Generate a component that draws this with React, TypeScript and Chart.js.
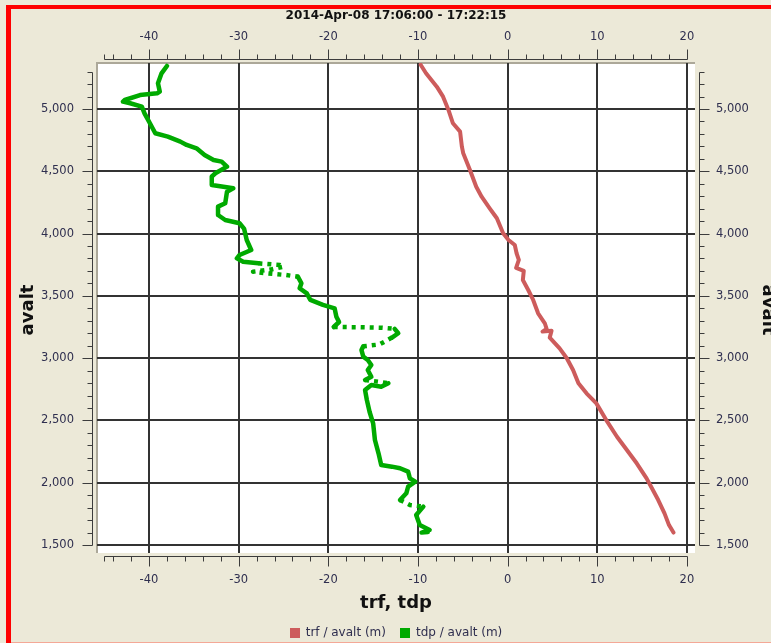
import React, { useEffect, useRef } from 'react';
import { Chart, registerables } from 'chart.js';

Chart.register(...registerables);

// ---------- text ----------
const chartTitle = '2014-Apr-08 17:06:00 - 17:22:15';
const xAxisTitle = 'trf, tdp';
const yAxisTitle = 'avalt';
const seriesNames = ['trf / avalt (m)', 'tdp / avalt (m)'];

// ---------- axes ----------
const xGridTicks = [-40, -30, -20, -10, 0, 10, 20];
const yGridTicks = [1500, 2000, 2500, 3000, 3500, 4000, 4500, 5000];
const xRange = [-45.8, 20.9];
const yRange = [1436, 5369];
const xAxisSpan = [-45, 20];
const yAxisSpan = [1500, 5300];
const xMajorStep = 10;
const xMinorStep = 2;
const yMajorStep = 500;
const yMinorStep = 100;

// ---------- data: trf (temperature) vs avalt ----------
const trfTemp = [
  -9.7, -9.1, -7.9, -7.2, -6.6, -6.1, -5.3, -5.1, -4.95, -4.2, -3.5, -2.9, -2.0, -1.2, -0.5,
  0.1, 0.8, 1.0, 1.25, 0.95, 1.8, 1.7, 2.3, 2.85, 3.4, 4.15, 4.35, 3.9, 4.9, 4.7, 5.8, 6.6,
  7.3, 7.9, 8.8, 9.9, 11.0, 12.2, 13.3, 14.4, 15.5, 15.9, 16.8, 17.5, 18.0, 18.5,
];
const trfAlt = [
  5355, 5287, 5179, 5099, 4992, 4885, 4818, 4697, 4644, 4510, 4376, 4296, 4203, 4123, 4002,
  3948, 3908, 3842, 3788, 3725, 3700, 3627, 3547, 3467, 3360, 3280, 3235, 3213, 3220, 3165, 3079, 2999,
  2905, 2798, 2718, 2637, 2503, 2369, 2263, 2156, 2035, 1982, 1861, 1754, 1660, 1600,
];

// ---------- data: tdp (dew point) vs avalt ----------
const tdpTemp = [
  -38.0, -38.6, -39.0, -38.8, -39.1, -41.0, -42.7, -42.9, -42.1, -40.8, -40.5, -39.9, -39.3,
  -37.9, -36.5, -35.8, -34.7, -33.8, -32.8, -31.9, -31.3, -32.6, -33.0, -33.0, -31.7, -30.6,
  -31.3, -31.5, -32.3, -32.3, -31.5, -29.9, -29.4, -29.1, -28.6, -29.9, -30.2, -29.5, -27.8,
  -25.4, -25.0, -26.3, -28.4, -26.9, -24.7, -23.4, -23.0, -23.2, -22.4, -22.0, -20.6, -19.3,
  -19.1, -18.8, -19.4, -16.5, -14.0, -12.6, -12.2, -12.9, -14.3, -16.1, -16.3, -16.1, -15.6,
  -15.2, -15.6, -15.2, -15.9, -14.4, -13.3, -14.1, -15.2, -15.9, -15.7, -15.4, -15.0, -14.8,
  -14.4, -14.1, -12.9, -12.0, -11.1, -10.9, -10.3, -11.1, -11.3, -12.0, -10.9, -9.4, -10.2,
  -9.8, -8.7, -9.6, -8.9,
];
const tdpAlt = [
  5345, 5286, 5206, 5140, 5126, 5112, 5072, 5059, 5046, 5019, 4965, 4885, 4805,
  4778, 4738, 4711, 4684, 4631, 4591, 4577, 4537, 4484, 4457, 4390, 4376, 4363,
  4336, 4243, 4216, 4149, 4109, 4083, 4040, 3948, 3868, 3828, 3801, 3774, 3761,
  3748, 3734, 3713, 3694, 3681, 3667, 3654, 3601, 3561, 3520, 3467, 3427, 3400,
  3333, 3290, 3250, 3248, 3244, 3235, 3200, 3165, 3110, 3095, 3065, 3012, 2985,
  2945, 2905, 2851, 2825, 2811, 2798, 2771, 2784, 2744, 2664, 2570, 2477, 2343,
  2236, 2142, 2129, 2116, 2089, 2035, 2008, 1968, 1915, 1861, 1821, 1808, 1741,
  1661, 1621, 1600, 1605,
];
// altitude bands where the dew-point samples are sparse (drawn as dots)
const tdpSparseBands = [
  [3650, 3762],
  [3235, 3255],
  [3090, 3170],
  [2795, 2826],
  [1805, 1862],
];

const trfColor = '#CD5C5C';
const tdpColor = '#00AA00';

const W = 771;
const H = 643;

function inSparse(a: number, b: number) {
  return tdpSparseBands.some(([lo, hi]) => a >= lo && a <= hi && b >= lo && b <= hi);
}

const fmt = (v: number) => v.toLocaleString('en-US');

const decorPlugin = {
  id: 'decor',
  beforeDraw(chart: any) {
    const { ctx, chartArea: a } = chart;
    ctx.save();
    ctx.fillStyle = '#ECE9D8';
    ctx.fillRect(0, 0, W, H);
    ctx.fillStyle = '#FF0000';
    ctx.fillRect(6, 5, 5, H - 5);
    ctx.fillRect(6, 5, W - 6, 4);
    ctx.fillStyle = '#F4A897';
    ctx.fillRect(11, H - 1, W - 11, 1);
    ctx.fillStyle = '#FFFFFF';
    ctx.fillRect(a.left, a.top, a.right - a.left, a.bottom - a.top);
    ctx.fillStyle = '#ACA899';
    ctx.fillRect(a.left - 1, a.top - 1, a.right - a.left + 1, 2);
    ctx.fillRect(a.left - 1, a.top - 1, 2, a.bottom - a.top + 1);
    ctx.restore();
  },
  afterDraw(chart: any) {
    const { ctx, chartArea: a } = chart;
    const xs = chart.scales.x;
    const ys = chart.scales.y;
    const px = (v: number) => Math.round(xs.getPixelForValue(v)) + 0.5;
    const py = (v: number) => Math.round(ys.getPixelForValue(v)) + 0.5;
    ctx.save();
    ctx.strokeStyle = '#3C3C3C';
    ctx.lineWidth = 1;
    const seg = (x0: number, y0: number, x1: number, y1: number) => {
      ctx.beginPath();
      ctx.moveTo(x0, y0);
      ctx.lineTo(x1, y1);
      ctx.stroke();
    };
    // horizontal axes (top & bottom)
    const topY = 59.5;
    const botY = 556.5;
    seg(px(xAxisSpan[0]), topY, px(xAxisSpan[1]), topY);
    seg(px(xAxisSpan[0]), botY, px(xAxisSpan[1]), botY);
    for (let v = xAxisSpan[0]; v <= xAxisSpan[1]; v++) {
      const major = v % xMajorStep === 0;
      const minor = v % xMinorStep === 0 || v === xAxisSpan[0];
      if (!major && !minor) continue;
      const len = major ? 10 : 5;
      seg(px(v), topY, px(v), topY - len);
      seg(px(v), botY, px(v), botY + len);
    }
    // vertical axes (left & right)
    const leftX = 92.5;
    const rightX = 699.5;
    seg(leftX, py(yAxisSpan[0]), leftX, py(yAxisSpan[1]));
    seg(rightX, py(yAxisSpan[0]), rightX, py(yAxisSpan[1]));
    for (let v = yAxisSpan[0]; v <= yAxisSpan[1]; v += yMinorStep) {
      const major = v % yMajorStep === 0;
      const len = major ? 10 : 5;
      seg(leftX, py(v), leftX - len, py(v));
      seg(rightX, py(v), rightX + len, py(v));
    }
    // tick labels
    ctx.fillStyle = '#2F2F4F';
    ctx.font = '11.5px "DejaVu Sans"';
    ctx.textBaseline = 'middle';
    ctx.textAlign = 'center';
    for (let v = xAxisSpan[0]; v <= xAxisSpan[1]; v++) {
      if (v % xMajorStep !== 0) continue;
      ctx.fillText(String(v), xs.getPixelForValue(v), 37);
      ctx.fillText(String(v), xs.getPixelForValue(v), 580);
    }
    for (let v = yAxisSpan[0]; v <= yAxisSpan[1]; v += yMinorStep) {
      if (v % yMajorStep !== 0) continue;
      ctx.textAlign = 'right';
      ctx.fillText(fmt(v), 74, ys.getPixelForValue(v));
      ctx.textAlign = 'left';
      ctx.fillText(fmt(v), 716, ys.getPixelForValue(v));
    }
    // titles
    const cx = (a.left + a.right) / 2;
    const cy = (a.top + a.bottom) / 2 + 2;
    ctx.fillStyle = '#111111';
    ctx.textAlign = 'center';
    ctx.font = 'bold 12px "DejaVu Sans"';
    ctx.fillText(chartTitle, cx, 16);
    ctx.font = 'bold 18px "DejaVu Sans"';
    ctx.fillText(xAxisTitle, cx, 603);
    ctx.save();
    ctx.translate(28, cy);
    ctx.rotate(-Math.PI / 2);
    ctx.fillText(yAxisTitle, 0, 0);
    ctx.restore();
    ctx.save();
    ctx.translate(768, cy);
    ctx.rotate(Math.PI / 2);
    ctx.fillText(yAxisTitle, 0, 0);
    ctx.restore();
    // legend
    ctx.font = '12px "DejaVu Sans"';
    const colors = [trfColor, tdpColor];
    const box = 10;
    const gap = 6;
    const spacing = 14;
    const widths = seriesNames.map((s) => ctx.measureText(s).width);
    const total = widths.reduce((s, w) => s + box + gap + w, 0) + spacing * (seriesNames.length - 1);
    let lx = cx - total / 2;
    const ly = 633;
    ctx.textAlign = 'left';
    seriesNames.forEach((name, i) => {
      ctx.fillStyle = colors[i];
      ctx.fillRect(Math.round(lx), ly - 5, box, box);
      ctx.fillStyle = '#2F2F4F';
      ctx.fillText(name, lx + box + gap, ly);
      lx += box + gap + widths[i] + spacing;
    });
    ctx.restore();
  },
};

export default function App() {
  const ref = useRef<HTMLCanvasElement | null>(null);
  useEffect(() => {
    document.body.style.margin = '0';
    if (!ref.current) return;
    const trfPoints = trfTemp.map((x, i) => ({ x, y: trfAlt[i] }));
    const tdpPoints = tdpTemp.map((x, i) => ({ x, y: tdpAlt[i] }));
    const chart = new Chart(ref.current, {
      type: 'scatter',
      data: {
        datasets: [
          {
            label: seriesNames[0],
            data: trfPoints,
            showLine: true,
            borderColor: trfColor,
            backgroundColor: trfColor,
            borderWidth: 4,
            pointRadius: 0,
            borderJoinStyle: 'round',
            borderCapStyle: 'round',
          },
          {
            label: seriesNames[1],
            data: tdpPoints,
            showLine: true,
            borderColor: tdpColor,
            backgroundColor: tdpColor,
            borderWidth: 4.5,
            pointRadius: 0,
            borderJoinStyle: 'round',
            borderCapStyle: 'round',
            segment: {
              borderDash: (c: any) => (inSparse(c.p0.parsed.y, c.p1.parsed.y) ? [4, 5] : undefined),
              borderCapStyle: (c: any) => (inSparse(c.p0.parsed.y, c.p1.parsed.y) ? 'butt' : undefined),
            },
          } as any,
        ],
      },
      options: {
        animation: false,
        responsive: false,
        layout: { padding: { left: 97, top: 63, right: 76, bottom: 90 } },
        plugins: {
          legend: { display: false },
          title: { display: false },
          tooltip: { enabled: false },
        },
        scales: {
          x: {
            type: 'linear',
            min: xRange[0],
            max: xRange[1],
            afterBuildTicks: (s: any) => {
              s.ticks = xGridTicks.map((v) => ({ value: v }));
            },
            ticks: { display: false },
            grid: { color: '#333333', lineWidth: 2, drawTicks: false },
            border: { display: false },
          },
          y: {
            type: 'linear',
            min: yRange[0],
            max: yRange[1],
            afterBuildTicks: (s: any) => {
              s.ticks = yGridTicks.map((v) => ({ value: v }));
            },
            ticks: { display: false },
            grid: { color: '#333333', lineWidth: 2, drawTicks: false },
            border: { display: false },
          },
        },
      },
      plugins: [decorPlugin],
    });
    return () => chart.destroy();
  }, []);
  return <canvas ref={ref} width={W} height={H} style={{ display: 'block' }} />;
}
